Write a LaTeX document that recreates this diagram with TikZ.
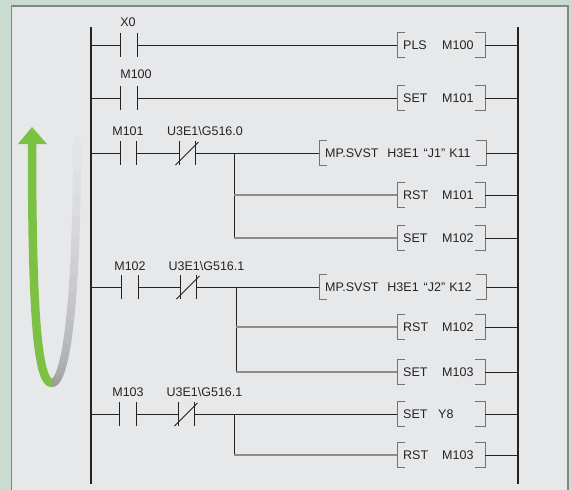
\documentclass[tikz,border=0pt]{standalone}
\usepackage{fontspec}
\setmainfont{Liberation Sans}
\usetikzlibrary{math}

\definecolor{outerbg}{RGB}{201,220,207}
\definecolor{panel}{RGB}{231,232,234}
\definecolor{panelline}{RGB}{125,137,130}
\definecolor{arrowgreen}{RGB}{124,193,67}
\definecolor{arrowgray}{RGB}{150,150,153}
\definecolor{ink}{RGB}{35,35,35}

\begin{document}
\begin{tikzpicture}[x=1pt,y=-1pt,
    wire/.style={draw=ink,line width=1pt},
    rail/.style={draw=ink,line width=1.3pt},
    branch/.style={draw=black!45,line width=1.3pt},
    bracket/.style={draw=black!55,line width=1pt},
    contact/.style={minimum width=16pt,minimum height=23pt,inner sep=0pt},
    tag/.style={font=\fontsize{12.5}{14}\selectfont,text=ink,inner sep=0pt,text height=9pt,text depth=0pt},
    instr/.style={tag,anchor=west,align=left,minimum height=24pt,inner xsep=6pt,text width=#1},
    instr/.default=76pt]

  \useasboundingbox (0,0) rectangle (571,490);
  \fill[outerbg] (0,0) rectangle (571,490);
  \filldraw[fill=panel,draw=panelline,line width=1.2pt] (11.5,6) rectangle (568,500);

  % scan arrow
  \foreach[remember=\px as \lastx (initially 52),remember=\py as \lasty (initially 383)] \i in {1,...,20} {
    \tikzmath{
      real \t, \px, \py;
      int \fade;
      \t = \i/20;
      \px = (1-\t)^3*52 + 3*(1-\t)^2*\t*64 + 3*(1-\t)*\t^2*77 + \t^3*77;
      \py = (1-\t)^3*383 + 3*(1-\t)^2*\t*383 + 3*(1-\t)*\t^2*320 + \t^3*140;
      \fade = 5*\i - 5;
    }
    \draw[line width=8pt,line cap=round,panel!\fade!arrowgray] (\lastx,\lasty) -- (\px,\py);
  }
  \draw[arrowgreen,line width=8.5pt] (52,383) .. controls (38,383) and (32,320) .. (32,141);
  \fill[arrowgreen] (18,144) -- (32,127) -- (47,144) -- cycle;

  % rails
  \coordinate (ltop) at (91,27);
  \coordinate (lbot) at (91,484);
  \coordinate (rtop) at (518,27);
  \coordinate (rbot) at (518,484);
  \draw[rail] (ltop) -- (lbot);
  \draw[rail] (rtop) -- (rbot);

  % contacts
  \node[contact] (x0) at (129,45) {};
  \node[contact] (m100) at (129,98) {};
  \node[contact] (m101) at (128.5,153) {};
  \node[contact] (m102) at (130,287) {};
  \node[contact] (m103) at (128,414) {};
  \node[contact] (g0a) at (187.5,153) {};
  \node[contact] (g1a) at (188.5,287) {};
  \node[contact] (g1b) at (186.5,414) {};

  \node[tag] (lx0) at (128,22) {X0};
  \node[tag] (lm100) at (136,74) {M100};
  \node[tag] (lm101) at (128,131) {M101};
  \node[tag] (lg0a) at (205,131) {U3E1\textbackslash G516.0};
  \node[tag] (lm102) at (130,266) {M102};
  \node[tag] (lg1a) at (206.5,266) {U3E1\textbackslash G516.1};
  \node[tag] (lm103) at (128,392) {M103};
  \node[tag] (lg1b) at (204.5,392) {U3E1\textbackslash G516.1};

  \foreach \c in {x0,m100,m101,m102,m103,g0a,g1a,g1b}
    \draw[wire] (\c.north west) -- (\c.south west) (\c.north east) -- (\c.south east);
  \foreach \c in {g0a,g1a,g1b}
    \draw[wire] ([shift={(-12,12)}]\c.center) -- ([shift={(11,-11)}]\c.center);

  % instructions
  \node[instr] (pls) at (397,45) {\makebox[39pt][l]{PLS}M100};
  \node[instr] (setA) at (397,98) {\makebox[39pt][l]{SET}M101};
  \node[instr=155pt] (svA) at (319,153) {MP.SVST\hspace{9pt}H3E1\hspace{5pt}“J1”\hspace{4pt}K11};
  \node[instr] (rstA) at (397,195) {\makebox[39pt][l]{RST}M101};
  \node[instr] (setB) at (397,238) {\makebox[39pt][l]{SET}M102};
  \node[instr=155pt] (svB) at (319,287) {MP.SVST\hspace{9pt}H3E1\hspace{5pt}“J2”\hspace{4pt}K12};
  \node[instr] (rstB) at (397,327) {\makebox[39pt][l]{RST}M102};
  \node[instr] (setC) at (397,372) {\makebox[39pt][l]{SET}M103};
  \node[instr] (setY) at (397,414) {\makebox[35pt][l]{SET}Y8};
  \node[instr] (rstC) at (397,455) {\makebox[39pt][l]{RST}M103};

  \foreach \b in {pls,setA,svA,rstA,setB,svB,rstB,setC,setY,rstC} {
    \draw[bracket] ([xshift=8pt]\b.north west) -| (\b.south west) -- ++(8,0);
    \draw[bracket] ([xshift=-10pt]\b.north east) -| (\b.south east) -- ++(-10,0);
    \draw[wire] (\b.east) -- (rtop |- \b);
  }

  % rungs
  \draw[wire] (ltop |- x0) -- (x0.west) (x0.east) -- (pls.west);
  \draw[wire] (ltop |- m100) -- (m100.west) (m100.east) -- (setA.west);
  \draw[wire] (ltop |- m101) -- (m101.west) (m101.east) -- (g0a.west) (g0a.east) -- (svA.west);
  \draw[wire] (ltop |- m102) -- (m102.west) (m102.east) -- (g1a.west) (g1a.east) -- (svB.west);
  \draw[wire] (ltop |- m103) -- (m103.west) (m103.east) -- (g1b.west) (g1b.east) -- (setY.west);

  % branches
  \coordinate (br1) at (234,153);
  \coordinate (br2) at (236,287);
  \coordinate (br3) at (234,414);
  \draw[wire] (br1) -- (br1 |- setB);
  \draw[wire] (br2) -- (br2 |- setC);
  \draw[wire] (br3) -- (br3 |- rstC);
  \draw[branch] (br1 |- rstA) -- (rstA.west) (br1 |- setB) -- (setB.west);
  \draw[branch] (br2 |- rstB) -- (rstB.west) (br2 |- setC) -- (setC.west);
  \draw[branch] (br3 |- rstC) -- (rstC.west);
\end{tikzpicture}
\end{document}
